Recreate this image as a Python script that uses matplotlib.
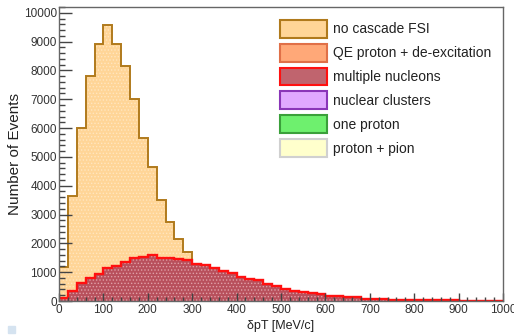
import numpy as np
import matplotlib
matplotlib.use("Agg")
import matplotlib.pyplot as plt
from matplotlib.patches import Patch, Rectangle
from matplotlib.ticker import MultipleLocator

plt.rcParams['font.family'] = ['Liberation Sans', 'DejaVu Sans']
plt.rcParams['hatch.linewidth'] = 0.6

# ── binned data, 20 MeV/c bins ─────────────────────────────────
bin_width = 20
no_cascade = [1190, 3656, 6000, 7820, 8930, 9560, 8910, 8170, 7020, 5670,
              4660, 3500, 2750, 2150, 1700]
multi_nucleons = [100, 350, 610, 800, 940, 1160, 1215, 1370, 1480, 1540,
                  1600, 1500, 1480, 1460, 1430, 1285, 1250, 1135, 1040, 960,
                  845, 775, 730, 580, 520, 420, 340, 310, 280, 250,
                  185, 180, 150, 140, 85, 75, 58, 46, 35, 35,
                  28, 25, 22, 20, 18, 15, 12, 10, 8, 6]

labels = ['no cascade FSI', 'QE proton + de-excitation', 'multiple nucleons',
          'nuclear clusters', 'one proton', 'proton + pion']
fills = ['#ffd597', '#ffa878', '#c0646e', '#e0a8ff', '#6ef06e', '#ffffcc']
edges = ['#b07a1c', '#e07048', '#ff1010', '#8a35b8', '#3aa03a', '#d0d0d0']

edges_nc = np.arange(len(no_cascade) + 1) * bin_width
edges_mn = np.arange(len(multi_nucleons) + 1) * bin_width

fig = plt.figure(figsize=(5.14, 3.35), dpi=100)
ax = fig.add_axes([59 / 514, 1 - 301 / 335, 444 / 514, 294 / 335])

# orange: no cascade FSI
ax.stairs(no_cascade, edges_nc, fill=True, facecolor=fills[0],
          edgecolor='#ffe6c0', hatch='.....', lw=0)
ax.stairs(no_cascade, edges_nc, color=edges[0], lw=1.4)

# red: multiple nucleons
ax.stairs(multi_nucleons, edges_mn, fill=True, facecolor='#b8505c',
          edgecolor='#e0a0a8', hatch='.....', lw=0)
ax.stairs(multi_nucleons, edges_mn, color=edges[2], lw=1.7, baseline=None)

ax.set_xlim(0, 1000)
ax.set_ylim(0, 10200)
ax.xaxis.set_major_locator(MultipleLocator(100))
ax.xaxis.set_minor_locator(MultipleLocator(20))
ax.yaxis.set_major_locator(MultipleLocator(1000))
ax.yaxis.set_minor_locator(MultipleLocator(200))
ax.tick_params(axis='both', which='both', direction='in', colors='#444444',
               labelcolor='#333333', labelsize=8.5, width=1.0)
ax.tick_params(axis='y', which='major', length=9.4, pad=1.5)
ax.tick_params(axis='y', which='minor', length=4.5)
ax.tick_params(axis='x', which='major', length=5.5, pad=2)
ax.tick_params(axis='x', which='minor', length=3)
for s in ax.spines.values():
    s.set_color('#666666')
    s.set_linewidth(1.0)

ax.set_xlabel('δpT [MeV/c]', fontsize=9, color='#222222', labelpad=3)
ax.set_ylabel('Number of Events', fontsize=11, color='#222222')
ax.yaxis.set_label_coords(-0.083, 0.5)

handles = [Patch(facecolor=f, edgecolor=e, lw=1.5) for f, e in zip(fills, edges)]
fig.legend(handles, labels, loc='upper left',
           bbox_to_anchor=(280 / 514, 1 - 20 / 335), frameon=False,
           fontsize=10, handlelength=3.4, handleheight=1.6, labelspacing=0.43,
           handletextpad=0.45, borderpad=0, borderaxespad=0,
           labelcolor='#222222')

fig.patches.append(Rectangle((8 / 514, 1 - 333 / 335), 7 / 514, 7 / 335,
                             transform=fig.transFigure, color='#d5e3f0'))

fig.savefig('out.png', dpi=100)
